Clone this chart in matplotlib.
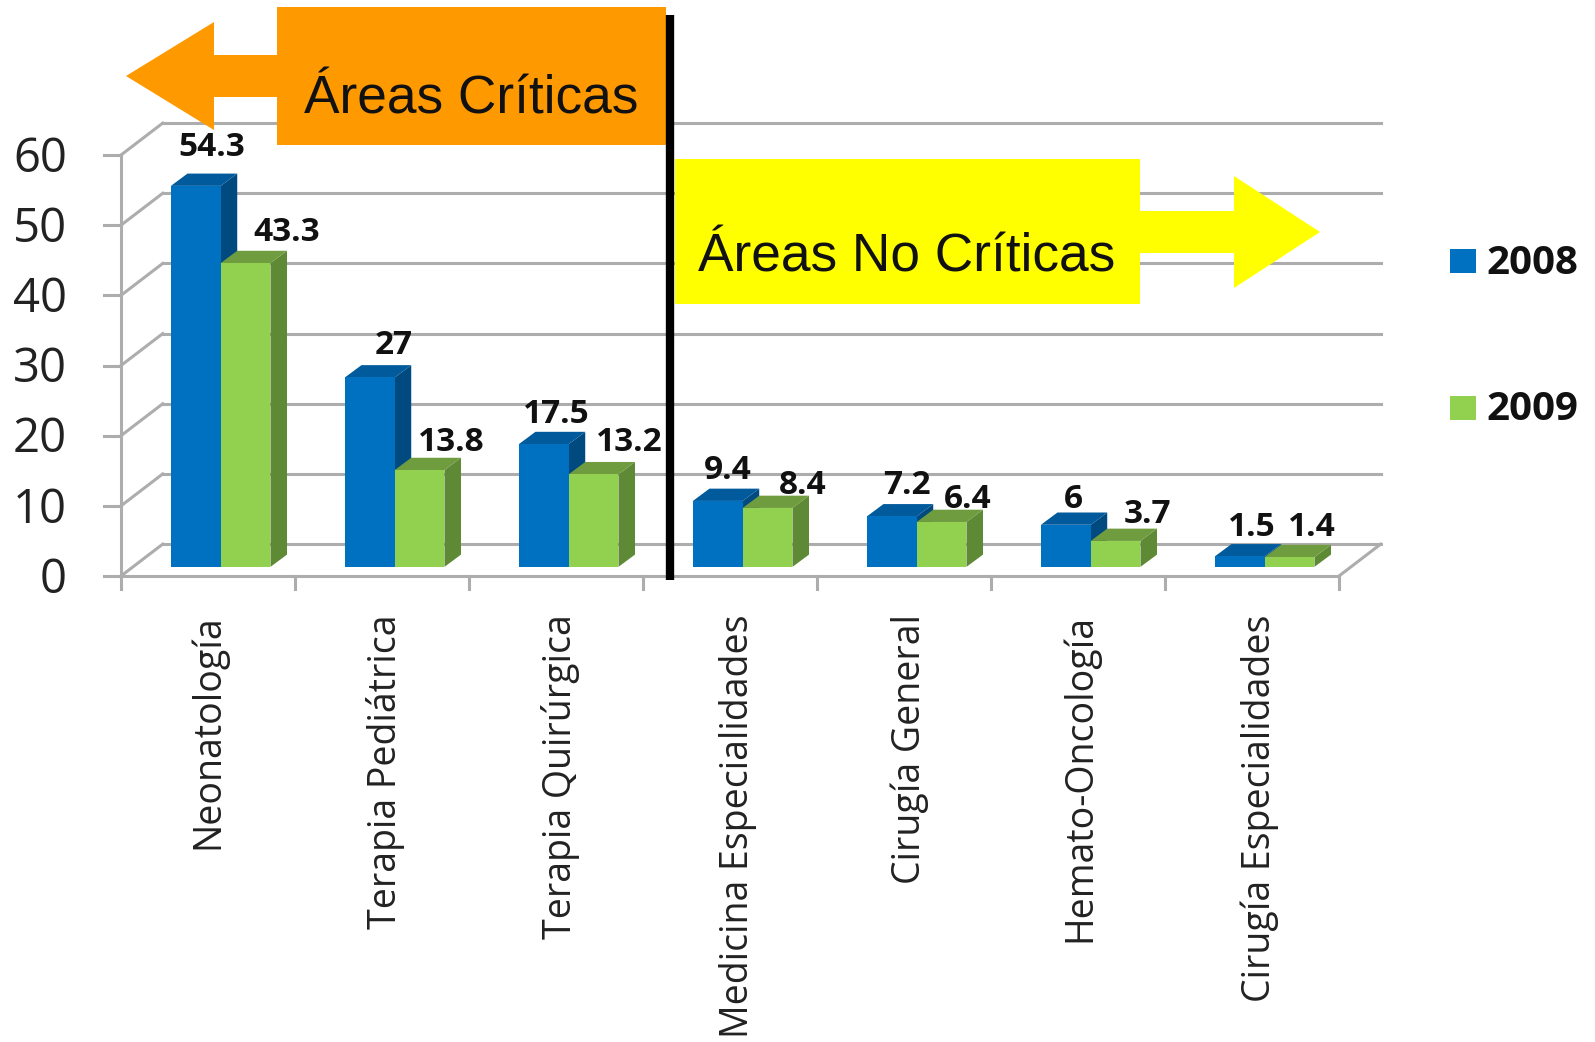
import matplotlib
matplotlib.use("Agg")
import matplotlib.pyplot as plt
from matplotlib.patches import Polygon

categories = ["Neonatología", "Terapia Pediátrica", "Terapia Quirúrgica", "Medicina Especialidades",
              "Cirugía General", "Hemato-Oncología", "Cirugía Especialidades"]
v2008 = [54.3, 27, 17.5, 9.4, 7.2, 6, 1.5]
v2009 = [43.3, 13.8, 13.2, 8.4, 6.4, 3.7, 1.4]
lab2008 = ["54.3", "27", "17.5", "9.4", "7.2", "6", "1.5"]
lab2009 = ["43.3", "13.8", "13.2", "8.4", "6.4", "3.7", "1.4"]
yticks = [0, 10, 20, 30, 40, 50, 60]
series_names = ["2008", "2009"]

# hand-placed label nudges (pixels) seen in the reference
nudge2008 = [(9, -1), (17, -7), (6, -10), (3, -9), (8, -8), (1, -14), (5, -10)]
nudge2009 = [(25, -9), (16, -12), (20, -8), (19, -17), (10, -17), (16, -13), (7, -10)]
cat_nudge = [4, 7, 8, 11, 9, 6, 11]

W, H = 1595, 1042
fig = plt.figure(figsize=(W/100, H/100), dpi=100, facecolor="white")
plt.rcParams['font.family'] = ['Open Sans', 'DejaVu Sans']
L, R, T, B = 121, 1339, 155, 576
ax = fig.add_axes([L/W, 1-B/H, (R-L)/W, (B-T)/H])
ax.set_xlim(0, 7); ax.set_ylim(0, 60)
ax.axis("off")
ov = fig.add_axes([0, 0, 1, 1]); ov.set_xlim(0, W); ov.set_ylim(H, 0); ov.axis("off"); ov.patch.set_alpha(0)

DX, DY = 0.24, 4.55   # wall depth
grid = "#adadad"
lw = 2.2
for t in yticks:
    ax.plot([DX, 7+DX], [t+DY, t+DY], color=grid, lw=lw, clip_on=False, zorder=1)
    ax.plot([0, DX], [t, t+DY], color=grid, lw=lw, clip_on=False, zorder=1)
    ax.plot([-0.095, 0], [t, t], color=grid, lw=lw, clip_on=False, zorder=1)
    ax.annotate(str(t), (0, t), xytext=(-54, -4), textcoords="offset pixels", ha="right", va="center",
                fontsize=34, color="#222222", annotation_clip=False)
ax.plot([0, 0], [0, 60], color=grid, lw=lw, clip_on=False, zorder=1)
ax.plot([0, 7], [0, 0], color=grid, lw=lw, clip_on=False, zorder=1)
ax.plot([7, 7+DX], [0, DY], color=grid, lw=lw, clip_on=False, zorder=1)
for i in range(8):
    ax.plot([i, i], [0, -1.9], color=grid, lw=lw, clip_on=False, zorder=1)

bw, bx, by = 0.286, 0.073, 1.3
dx, dy = 0.095, 1.75
def bar3d(x0, v, front, side, top):
    x1 = x0 + bw
    y0, y1 = by, by + v
    ax.add_patch(Polygon([(x1, y0), (x1+dx, y0+dy), (x1+dx, y1+dy), (x1, y1)], fc=side, ec="none", zorder=3, clip_on=False))
    ax.add_patch(Polygon([(x0, y1), (x0+dx, y1+dy), (x1+dx, y1+dy), (x1, y1)], fc=top, ec="none", zorder=3, clip_on=False))
    ax.add_patch(Polygon([(x0, y0), (x1, y0), (x1, y1), (x0, y1)], fc=front, ec="none", zorder=4, clip_on=False))

for i, cat in enumerate(categories):
    c = i + 0.5 + bx
    bar3d(c-bw, v2008[i], "#0070c0", "#004a80", "#005a9c")
    bar3d(c, v2009[i], "#92d050", "#5f8a35", "#6f9c3f")
    z8 = 2 if lab2008[i] == "9.4" else 5
    ax.annotate(lab2008[i], (c-bw/2+0.04, by+v2008[i]+dy+1.5), xytext=nudge2008[i], textcoords="offset pixels",
                ha="center", va="bottom", fontsize=24, fontweight="bold", color="#111111", zorder=z8, annotation_clip=False)
    ax.annotate(lab2009[i], (c+bw/2+0.09, by+v2009[i]+dy+1.5), xytext=nudge2009[i], textcoords="offset pixels",
                ha="center", va="bottom", fontsize=24, fontweight="bold", color="#111111", zorder=5, annotation_clip=False)
    ax.annotate(cat, (i+0.5-0.02, -5.2), xytext=(cat_nudge[i], -2), textcoords="offset pixels", rotation=90,
                ha="center", va="top", fontsize=27, color="#222222", annotation_clip=False)

# annotation shapes (overlay, pixel coordinates)
ov.add_patch(Polygon([(126,76),(214,22),(214,55),(280,55),(280,97),(214,97),(214,130)], fc="#ff9900", ec="none", zorder=6))
ov.add_patch(Polygon([(277,7),(666,7),(666,145),(277,145)], fc="#ff9900", ec="none", zorder=6))
ov.text(471, 99, "Áreas Críticas", ha="center", va="center", fontsize=38.3, family="Liberation Sans", color="#111111", zorder=7)
ov.add_patch(Polygon([(675,159),(1140,159),(1140,211),(1234,211),(1234,176),(1320,232),(1234,288),(1234,253),(1140,253),(1140,304),(675,304)], fc="#ffff00", ec="none", zorder=6))
ov.text(907, 257, "Áreas No Críticas", ha="center", va="center", fontsize=38.3, family="Liberation Sans", color="#111111", zorder=7)
ov.plot([670, 670], [15, 580], color="black", lw=6, zorder=8, solid_capstyle="butt")

# legend
for yc, col, name in zip([261, 408], ["#0070c0", "#92d050"], series_names):
    ov.add_patch(Polygon([(1450,yc-12),(1476,yc-12),(1476,yc+12),(1450,yc+12)], fc=col, ec="none"))
    ov.text(1486, yc+2, name, ha="left", va="center", fontsize=29, fontweight="bold", color="#111111")

fig.savefig("out.png", dpi=100, facecolor="white")
